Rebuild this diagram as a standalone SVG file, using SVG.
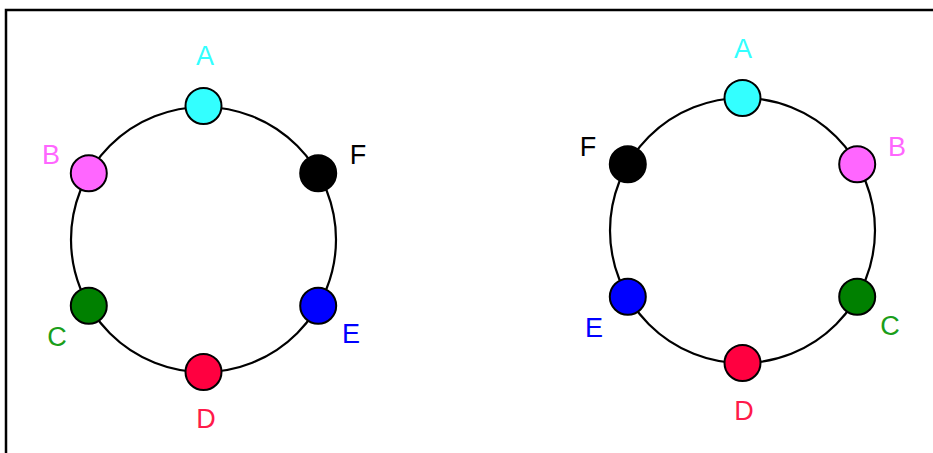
<svg xmlns="http://www.w3.org/2000/svg" width="933" height="453" viewBox="0 0 933 453">
<style>
.ring{fill:none;stroke:#000;stroke-width:2.2}
.n{stroke:#000;stroke-width:2}
text{font-family:"Liberation Sans",Arial,sans-serif;font-size:27px;text-anchor:middle}
</style>
<rect x="6" y="10" width="960" height="480" fill="#fff" stroke="#000" stroke-width="2.5"/>
<g id="connectors">
<circle class="ring" cx="203.5" cy="239.5" r="132.5"/>
<circle class="ring" cx="742.5" cy="230.5" r="132.5"/>
</g>
<g id="L-A"><circle class="n" cx="203.5" cy="106" r="18" fill="#33ffff"/><text x="205" y="65" fill="#33ffff">A</text></g>
<g id="L-B"><circle class="n" cx="88.8" cy="173.2" r="18" fill="#ff66ff"/><text x="51" y="164" fill="#ff66ff">B</text></g>
<g id="L-C"><circle class="n" cx="88.8" cy="305.7" r="18" fill="#008000"/><text x="57" y="346" fill="#1a9e1a">C</text></g>
<g id="L-D"><circle class="n" cx="203.5" cy="372" r="18" fill="#ff0040"/><text x="206" y="428" fill="#ff1a4a">D</text></g>
<g id="L-E"><circle class="n" cx="318.2" cy="305.7" r="18" fill="#0000ff"/><text x="351" y="343" fill="#0000ff">E</text></g>
<g id="L-F"><circle class="n" cx="318.2" cy="173.2" r="18" fill="#000"/><text x="358" y="164" fill="#000">F</text></g>
<g id="R-A"><circle class="n" cx="742.5" cy="98" r="18" fill="#33ffff"/><text x="743" y="58" fill="#33ffff">A</text></g>
<g id="R-B"><circle class="n" cx="857.2" cy="164.2" r="18" fill="#ff66ff"/><text x="897" y="156" fill="#ff66ff">B</text></g>
<g id="R-C"><circle class="n" cx="857.2" cy="296.7" r="18" fill="#008000"/><text x="890" y="335" fill="#1a9e1a">C</text></g>
<g id="R-D"><circle class="n" cx="742.5" cy="363" r="18" fill="#ff0040"/><text x="744" y="420" fill="#ff1a4a">D</text></g>
<g id="R-E"><circle class="n" cx="627.8" cy="296.7" r="18" fill="#0000ff"/><text x="594" y="337" fill="#0000ff">E</text></g>
<g id="R-F"><circle class="n" cx="627.8" cy="164.2" r="18" fill="#000"/><text x="588" y="156" fill="#000">F</text></g>
</svg>
